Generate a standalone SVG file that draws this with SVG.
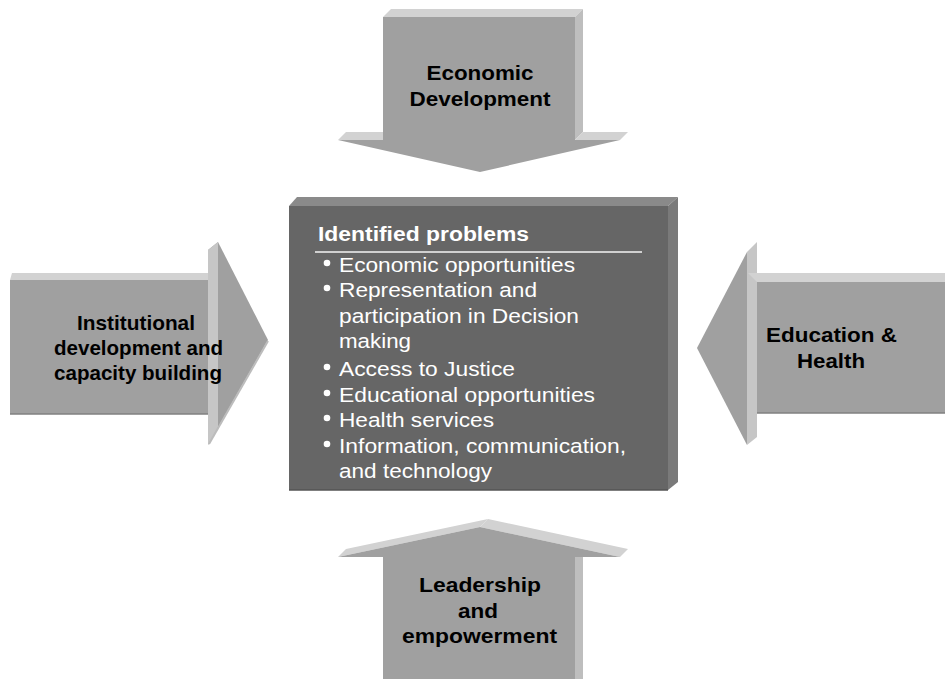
<svg xmlns="http://www.w3.org/2000/svg" width="945" height="679" viewBox="0 0 945 679">
<style>
.front{fill:#a0a0a0}
.topf{fill:#d2d2d2}
.side{fill:#bebebe}
.band{fill:#c6c6c6}
.edge{stroke:#808080;stroke-width:1.5}
.lbl{font-family:"Liberation Sans",Arial,sans-serif;font-weight:bold;font-size:21px;fill:#000;text-anchor:middle}
.item{font-family:"Liberation Sans",Arial,sans-serif;font-size:20.5px;fill:#ffffff}
.title{font-family:"Liberation Sans",Arial,sans-serif;font-weight:bold;font-size:20px;fill:#ffffff}
.dot{fill:#ffffff}
</style>
<rect width="945" height="679" fill="#ffffff"/>
<g id="connectors"></g>

<g id="economic-development">
<polygon class="topf" points="383,17 391,9 583,9 575,17"/>
<polygon class="side" points="575,17 583,9 583,132 575,140"/>
<polygon class="topf" points="338,140 346,132 383,132 383,140"/>
<polygon class="topf" points="575,140 583,132 628,132 620,140"/>
<polygon class="front" points="383,17 575,17 575,140 620,140 480,172 338,140 383,140"/>
<text class="lbl" x="480" y="80" textLength="107" lengthAdjust="spacingAndGlyphs">Economic</text>
<text class="lbl" x="480" y="106" textLength="141" lengthAdjust="spacingAndGlyphs">Development</text>
</g>

<g id="institutional-development">
<polygon class="front" points="208,250 218,242 268,340 208,445"/>
<polygon class="band" points="208,250 218,242 218,427 208,445"/>
<line x1="268" y1="341" x2="209" y2="444" stroke="#bcbcbc" stroke-width="2"/>
<polygon class="topf" points="12,273 208,273 208,280 10,280"/>
<rect class="front" x="10" y="280" width="198" height="134"/>
<line class="edge" x1="10" y1="414" x2="208" y2="414"/>
<text class="lbl" x="136" y="330" textLength="118" lengthAdjust="spacingAndGlyphs">Institutional</text>
<text class="lbl" x="138.5" y="355" textLength="169" lengthAdjust="spacingAndGlyphs">development and</text>
<text class="lbl" x="138" y="380" textLength="168" lengthAdjust="spacingAndGlyphs">capacity building</text>
</g>

<g id="education-health">
<polygon class="band" points="747,252 757,242 757,437 747,445"/>
<polygon class="front" points="747,252 697,348 747,445"/>
<polygon class="topf" points="748,273 945,273 945,282 757,282"/>
<rect class="front" x="757" y="282" width="188" height="131"/>
<line class="edge" x1="757" y1="413" x2="945" y2="413"/>
<text class="lbl" x="831.5" y="342" textLength="131" lengthAdjust="spacingAndGlyphs">Education &amp;</text>
<text class="lbl" x="831" y="368" textLength="68" lengthAdjust="spacingAndGlyphs">Health</text>
</g>

<g id="leadership-empowerment">
<polygon class="topf" points="338,557 346,549 488,519 480,527"/>
<polygon class="topf" points="480,527 488,519 628,549 620,557"/>
<polygon class="side" points="575,557 583,549 583,679 575,679"/>
<polygon class="front" points="383,679 383,557 338,557 480,527 620,557 575,557 575,679"/>
<text class="lbl" x="480" y="592" textLength="122" lengthAdjust="spacingAndGlyphs">Leadership</text>
<text class="lbl" x="478" y="618" textLength="40" lengthAdjust="spacingAndGlyphs">and</text>
<text class="lbl" x="479.5" y="643" textLength="155" lengthAdjust="spacingAndGlyphs">empowerment</text>
</g>

<g id="identified-problems">
<polygon fill="#8a8a8a" points="289,206 297,197 678,197 668,206"/>
<polygon fill="#7a7a7a" points="668,206 678,197 678,482 668,490"/>
<rect x="289" y="206" width="379" height="284" fill="#666666"/>
<line x1="289" y1="490" x2="668" y2="490" stroke="#555555" stroke-width="1.5"/>
<text class="title" x="318" y="241" textLength="211" lengthAdjust="spacingAndGlyphs">Identified problems</text>
<line x1="315" y1="252" x2="642" y2="252" stroke="#d0d0d0" stroke-width="2"/>
<circle class="dot" cx="327" cy="263" r="3.3"/>
<text class="item" x="339" y="272" textLength="236" lengthAdjust="spacingAndGlyphs">Economic opportunities</text>
<circle class="dot" cx="327" cy="288" r="3.3"/>
<text class="item" x="339" y="297" textLength="198" lengthAdjust="spacingAndGlyphs">Representation and</text>
<text class="item" x="339" y="323" textLength="240" lengthAdjust="spacingAndGlyphs">participation in Decision</text>
<text class="item" x="339" y="348" textLength="72" lengthAdjust="spacingAndGlyphs">making</text>
<circle class="dot" cx="327" cy="367" r="3.3"/>
<text class="item" x="339" y="376" textLength="176" lengthAdjust="spacingAndGlyphs">Access to Justice</text>
<circle class="dot" cx="327" cy="393" r="3.3"/>
<text class="item" x="339" y="402" textLength="256" lengthAdjust="spacingAndGlyphs">Educational opportunities</text>
<circle class="dot" cx="327" cy="418" r="3.3"/>
<text class="item" x="339" y="427" textLength="155" lengthAdjust="spacingAndGlyphs">Health services</text>
<circle class="dot" cx="327" cy="444" r="3.3"/>
<text class="item" x="339" y="453" textLength="287" lengthAdjust="spacingAndGlyphs">Information, communication,</text>
<text class="item" x="339" y="478" textLength="153" lengthAdjust="spacingAndGlyphs">and technology</text>
</g>
</svg>
